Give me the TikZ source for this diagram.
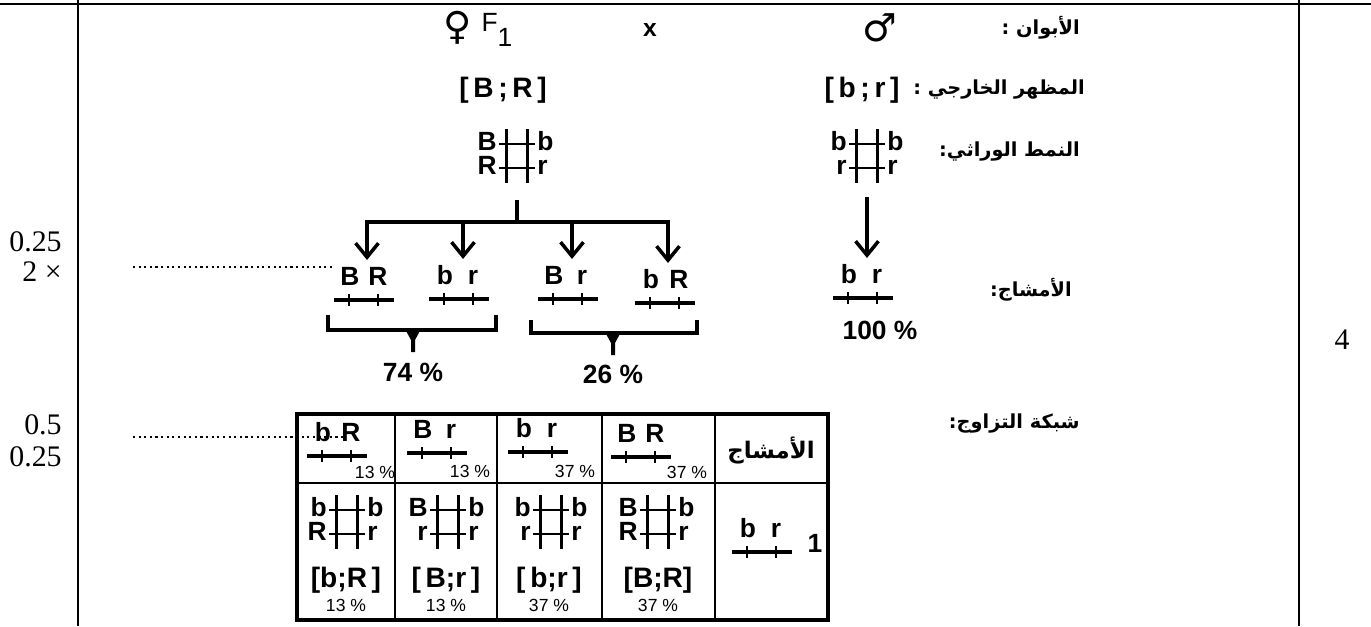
\documentclass[tikz,border=0pt]{standalone}
\usepackage{fontspec}
\setmainfont{Liberation Sans}
\newfontfamily\numfont{Liberation Serif}
\newfontfamily\arabicfont[Script=Arabic]{DejaVu Sans}
\newfontfamily\symfont{DejaVu Sans}
\TeXXeTstate=1
\usetikzlibrary{arrows.meta}

\tikzset{
  allele/.style={font=\bfseries\fontsize{15}{15}\selectfont, inner sep=0pt},
  pheno/.style={font=\bfseries\fontsize{16}{16}\selectfont, inner sep=0pt},
  pct/.style={font=\bfseries\fontsize{15}{15}\selectfont, inner sep=0pt},
  smallpct/.style={font=\fontsize{10}{10}\selectfont, inner sep=0pt},
  arlabel/.style={font=\arabicfont\bfseries\fontsize{11}{11}\selectfont, anchor=east, inner sep=0pt},
  grade/.style={font=\numfont\fontsize{17}{17}\selectfont, anchor=east, inner sep=0pt},
  chrom/.style={line width=2.2pt},
  locus/.style={line width=0.6pt},
  crossline/.style={line width=1pt},
  tree/.style={line width=2pt},
  branch/.style={line width=2pt, -{Straight Barb[length=8pt,width=13pt,line width=2pt]}},
  dotline/.style={dotted, line width=1.2pt},
}

% gamete: name, x, y of line, left allele, right allele
\newcommand{\gamete}[5]{%
  \node[allele, anchor=base] (#1a) at ({#2-14},{#3-15}) {#4};
  \node[allele, anchor=base] (#1b) at ({#2+14},{#3-15}) {#5};
  \draw[chrom] ({#2-30},#3) -- ({#2+30},#3);
  \draw[locus] ({#2-15},{#3-6}) -- ({#2-15},{#3+6});
  \draw[locus] ({#2+14},{#3-6}) -- ({#2+14},{#3+6});
  \coordinate (#1) at (#2,{#3-40});
}
% genotype: name, x, y, top left, bottom left, top right, bottom right
\newcommand{\genot}[7]{%
  \draw[chrom] ({#2-10.5},{#3-27}) -- ({#2-10.5},{#3+27});
  \draw[chrom] ({#2+10.5},{#3-27}) -- ({#2+10.5},{#3+27});
  \draw[crossline] ({#2-18},{#3-12}) -- ({#2+18},{#3-12});
  \draw[crossline] ({#2-18},{#3+12}) -- ({#2+18},{#3+12});
  \node[allele, anchor=base east] (#1tl) at ({#2-20},{#3-6}) {#4};
  \node[allele, anchor=base east] (#1bl) at ({#2-20},{#3+18}) {#5};
  \node[allele, anchor=base west] (#1tr) at ({#2+20},{#3-6}) {#6};
  \node[allele, anchor=base west] (#1br) at ({#2+20},{#3+18}) {#7};
  \coordinate (#1) at (#2,{#3+27});
}

\begin{document}
\begin{tikzpicture}[x=0.02cm,y=-0.02cm]
\useasboundingbox (0,0) rectangle (1371,626);

% frame of the answer sheet
\draw[line width=1pt] (0,4) -- (1371,4);
\draw[line width=0.8pt] (78,0) -- (78,626);
\draw[line width=0.8pt] (1299,0) -- (1299,626);

% marks
\node[grade] (mk1) at (62,242) {0.25};
\node[grade] (mk2) at (62,272) {2 ×};
\node[grade] (mk3) at (62,425) {0.5};
\node[grade] (mk4) at (62,457) {0.25};
\node[grade, anchor=center] (total) at (1342,340) {4};

% row labels
\node[arlabel] (parents) at (1080,28) {\beginR الأبوان :\endR};
\node[arlabel] (phenolab) at (1085,90) {\beginR المظهر الخارجي :\endR};
\node[arlabel] (genolab) at (1080,152) {\beginR النمط الوراثي:\endR};
\node[arlabel] (gamlab) at (1072,290) {\beginR الأمشاج:\endR};
\node[arlabel] (gridlab) at (1080,424) {\beginR شبكة التزاوج:\endR};

% parents
\node[font=\symfont\bfseries\fontsize{22}{22}\selectfont, inner sep=0pt] (female) at (458,28) {♀};
\node[font=\fontsize{15}{15}\selectfont, inner sep=0pt] (fone) at (497,30) {F\raisebox{-0.6em}{1}};
\node[font=\bfseries\fontsize{14}{14}\selectfont, inner sep=0pt] (cross) at (650,30) {x};
\node[font=\symfont\bfseries\fontsize{22}{22}\selectfont, inner sep=0pt] (male) at (880,28) {♂};

\node[pheno] (phf) at (503,90) {[\,B\,;\,R\,]};
\node[pheno] (phm) at (862,90) {[\,b\,;\,r\,]};

\genot{gf}{517}{156}{B}{R}{b}{r}
\genot{gm}{867}{156}{b}{r}{b}{r}

% gametes of the female
\gamete{g1}{364}{300}{B}{R}
\gamete{g2}{459}{299}{b}{r}
\gamete{g3}{568}{299}{B}{r}
\gamete{g4}{665}{303}{b}{R}

\coordinate (stem) at (517,200);
\coordinate (fork) at (517,222);
\coordinate (j1) at (367,222);
\coordinate (j2) at (463,222);
\coordinate (j3) at (572,222);
\coordinate (j4) at (668,222);
\draw[tree] (stem) -- (fork);
\draw[tree, line cap=rect] (j1) -- (j4);
\draw[branch] (j1) -- (j1 |- g1);
\draw[branch] (j2) -- (j2 |- g2);
\draw[branch] (j3) -- (j3 |- g3);
\draw[branch] (j4) -- (j4 |- g4);

% brackets
\draw[tree] (328,315) |- (496,330) -- (496,315);
\fill (405,329) -- (421,329) -- (415,340) -- (415,352) -- (411,352) -- (411,340) -- cycle;
\draw[tree] (531,320) |- (697,333) -- (697,320);
\fill (605,332) -- (621,332) -- (615,343) -- (615,355) -- (611,355) -- (611,343) -- cycle;
\node[pct] (p74) at (413,372) {74 \%};
\node[pct] (p26) at (613,374) {26 \%};

% gamete of the male
\gamete{gmm}{863}{298}{b}{r}
\coordinate (mstem) at (867,197);
\draw[branch] (mstem) -- (mstem |- gmm);
\node[pct] (p100) at (880,330) {100 \%};

\draw[dotline] (133,267) -- (335,267);
\draw[dotline] (133,437) -- (345,437);

% fertilisation grid
\draw[line width=2pt] (297,414) rectangle (828,620);
\draw[line width=1.6pt] (297,483) -- (828,483);
\foreach \c in {395,497,602,715}
  \draw[line width=1.6pt] (\c,414) -- (\c,620);

\gamete{h1}{337}{456}{b}{R}
\gamete{h2}{437}{453}{B}{r}
\gamete{h3}{538}{452}{b}{r}
\gamete{h4}{641}{457}{B}{R}
\node[smallpct] (h1p) at (375,472) {13 \%};
\node[smallpct] (h2p) at (470,471) {13 \%};
\node[smallpct] (h3p) at (575,471) {37 \%};
\node[smallpct] (h4p) at (687,472) {37 \%};
\node[font=\arabicfont\bfseries\fontsize{13}{13}\selectfont, inner sep=0pt] (gamhead) at (771,450) {\beginR الأمشاج\endR};

\genot{z1}{347}{522}{b}{R}{b}{r}
\genot{z2}{448}{522}{B}{r}{b}{r}
\genot{z3}{551}{522}{b}{r}{b}{r}
\genot{z4}{658}{522}{B}{R}{b}{r}
\node[pheno] (z1p) at (346,580) {[b;R\,]};
\node[pheno] (z2p) at (446,580) {[\,B;r\,]};
\node[pheno] (z3p) at (549,580) {[\,b;r\,]};
\node[pheno] (z4p) at (658,580) {[B;R]};
\node[smallpct] (z1q) at (346,605) {13 \%};
\node[smallpct] (z2q) at (446,605) {13 \%};
\node[smallpct] (z3q) at (549,605) {37 \%};
\node[smallpct] (z4q) at (658,605) {37 \%};

\gamete{hm}{762}{552}{b}{r}
\node[allele] (one) at (815,543) {1};
\end{tikzpicture}
\end{document}
